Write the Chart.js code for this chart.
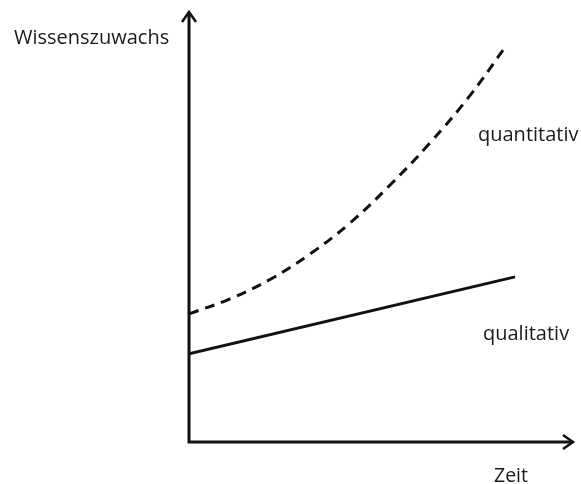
<!DOCTYPE html>
<html lang="de">
<head>
  <meta charset="UTF-8">
  <title>Wissenszuwachs</title>
  <style>
    html, body { margin: 0; padding: 0; background: #fff; }
    #box { width: 581px; height: 484px; }
  </style>
  <script src="https://cdn.jsdelivr.net/npm/chart.js"></script>
</head>
<body>
<div id="box"><canvas id="chart"></canvas></div>
<script>
  // Zeit (0..100) und Wissenszuwachs (0..100)
  const quantX = [0, 10.7, 21.1, 31.5, 41.9, 52.3, 62.8, 73.2, 82.3];
  const quantY = [29.8, 33.3, 37.8, 43.7, 50.9, 59.7, 69.6, 80.6, 91.8];
  const qualX = [0, 84.9];
  const qualY = [20.5, 38.4];

  const yTitle = 'Wissenszuwachs';
  const xTitle = 'Zeit';
  const seriesNames = ['quantitativ', 'qualitativ'];

  const toPoints = (xs, ys) => xs.map((x, i) => ({ x: x, y: ys[i] }));

  // Achsen mit Pfeilen und Beschriftungen
  const axesPlugin = {
    id: 'axesPlugin',
    afterDraw(chart) {
      const ctx = chart.ctx;
      const a = chart.chartArea;
      ctx.save();
      ctx.strokeStyle = '#111';
      ctx.lineWidth = 3;
      ctx.lineCap = 'butt';
      ctx.beginPath();
      ctx.moveTo(a.left, a.top);
      ctx.lineTo(a.left, a.bottom);
      ctx.lineTo(a.right, a.bottom);
      ctx.stroke();
      ctx.lineWidth = 2.5;
      ctx.beginPath();
      ctx.moveTo(a.left - 7, a.top + 10);
      ctx.lineTo(a.left, a.top);
      ctx.lineTo(a.left + 7, a.top + 10);
      ctx.moveTo(a.right - 10, a.bottom - 7);
      ctx.lineTo(a.right, a.bottom);
      ctx.lineTo(a.right - 10, a.bottom + 7);
      ctx.stroke();

      ctx.fillStyle = '#1a1a1a';
      ctx.font = '20px "Open Sans"';
      ctx.textBaseline = 'middle';
      ctx.textAlign = 'left';
      ctx.fillText(yTitle, 14, 38, 158);
      ctx.fillText(seriesNames[0], 478, 135, 110);
      ctx.fillText(seriesNames[1], 483, 334, 88);
      ctx.fillText(xTitle, 494, 476, 34);
      ctx.restore();
    }
  };

  new Chart(document.getElementById('chart'), {
    type: 'line',
    data: {
      datasets: [
        {
          label: seriesNames[0],
          data: toPoints(quantX, quantY),
          borderColor: '#111',
          borderWidth: 3,
          borderDash: [10, 7],
          pointRadius: 0,
          tension: 0.4,
          fill: false
        },
        {
          label: seriesNames[1],
          data: toPoints(qualX, qualY),
          borderColor: '#111',
          borderWidth: 3,
          pointRadius: 0,
          fill: false
        }
      ]
    },
    options: {
      responsive: true,
      maintainAspectRatio: false,
      animation: false,
      layout: { padding: { left: 189, right: 8, top: 12, bottom: 42 } },
      plugins: { legend: { display: false }, tooltip: { enabled: false } },
      scales: {
        x: { type: 'linear', min: 0, max: 100, display: false },
        y: { type: 'linear', min: 0, max: 100, display: false }
      }
    },
    plugins: [axesPlugin]
  });
</script>
</body>
</html>
